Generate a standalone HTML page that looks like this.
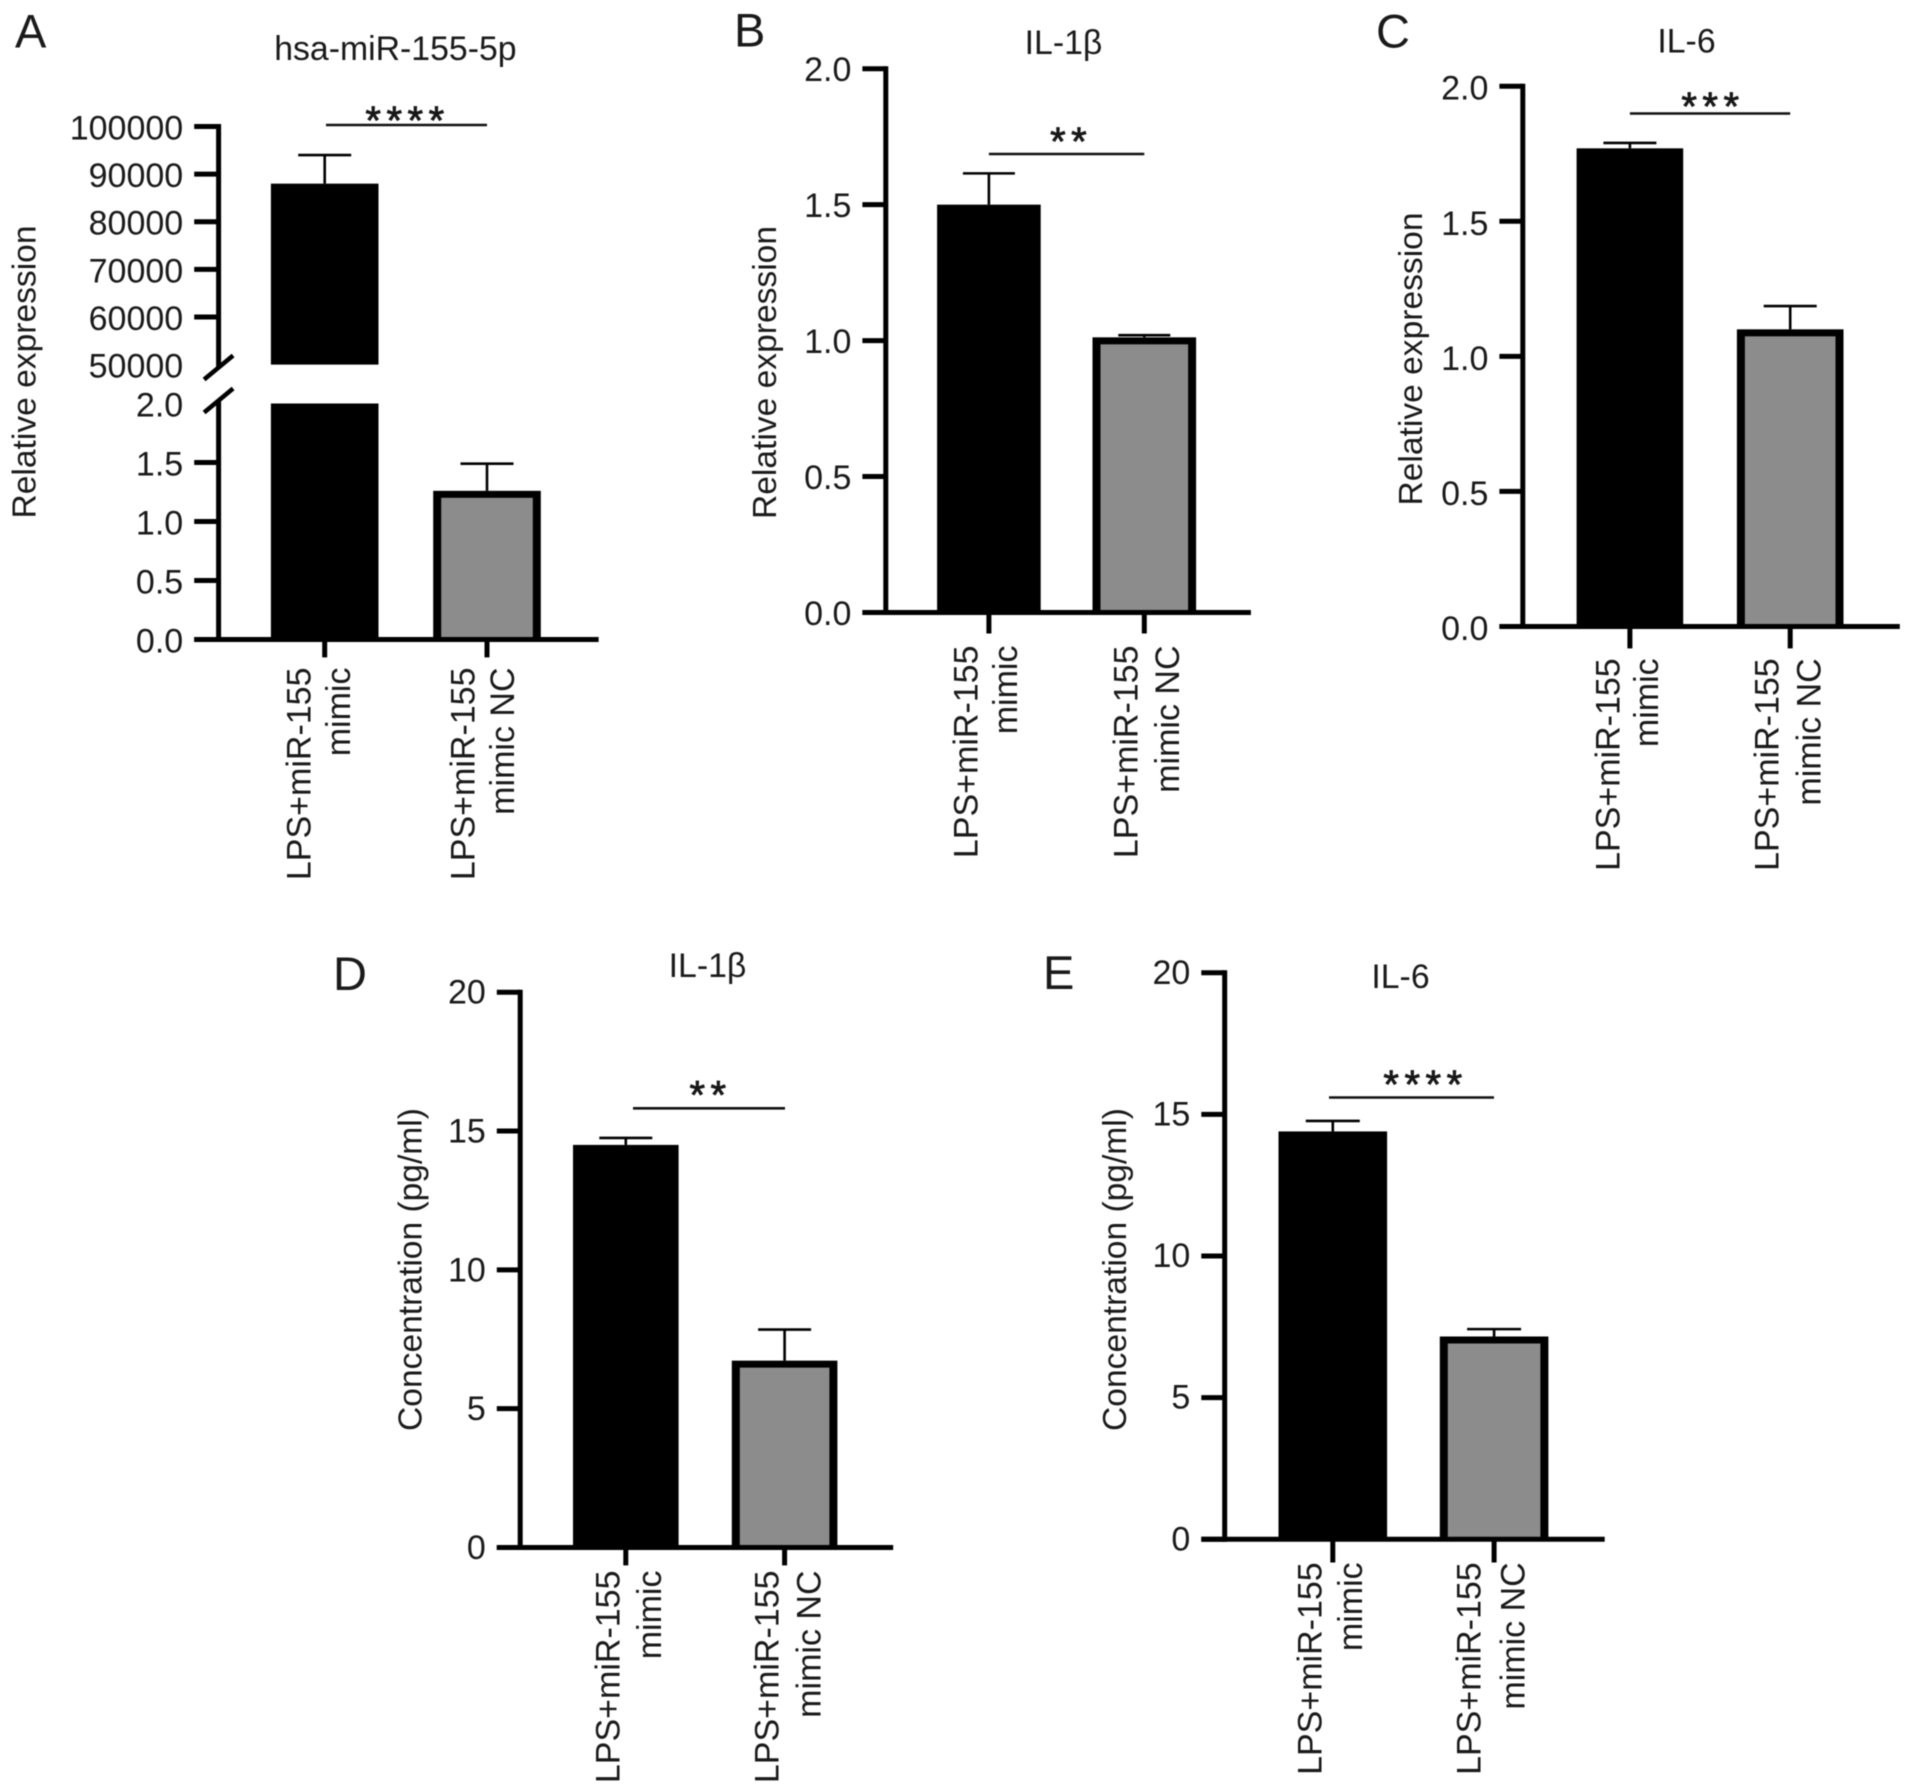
<!DOCTYPE html>
<html lang="en">
<head>
<meta charset="utf-8">
<title>miR-155 mimic expression and concentration bar charts</title>
<style>
html,body{margin:0;padding:0;background:#fff;}
body{width:1913px;height:1792px;overflow:hidden;}
svg{display:block;filter:blur(0.55px);}
text{font-family:"Liberation Sans",Arial,sans-serif;fill:#1a1a1a;}
</style>
</head>
<body>
<svg id="figure" xmlns="http://www.w3.org/2000/svg" width="1913" height="1792" viewBox="0 0 1913 1792"></svg>
<script>
// ---------- Data ----------
const categoryLines = [['LPS+miR-155', 'mimic'], ['LPS+miR-155', 'mimic NC']];
const panelKeys = ['A', 'B', 'C', 'D', 'E'];
const panelTitles = ['hsa-miR-155-5p', 'IL-1β', 'IL-6', 'IL-1β', 'IL-6'];
const yAxisTitles = ['Relative expression', 'Relative expression', 'Relative expression', 'Concentration (pg/ml)', 'Concentration (pg/ml)'];
const significance = ['****', '**', '***', '**', '****'];

const meansA = [88000, 1.26];
const errorTopsA = [94000, 1.49];
const meansB = [1.5, 1.012];
const errorTopsB = [1.615, 1.02];
const meansC = [1.77, 1.1];
const errorTopsC = [1.79, 1.186];
const meansD = [14.5, 6.73];
const errorTopsD = [14.75, 7.85];
const meansE = [14.4, 7.16];
const errorTopsE = [14.77, 7.42];

const ticksAUpper = [50000, 60000, 70000, 80000, 90000, 100000];
const tickLabelsAUpper = ['50000', '60000', '70000', '80000', '90000', '100000'];
const ticksALower = [0, 0.5, 1, 1.5, 2];
const tickLabelsALower = ['0.0', '0.5', '1.0', '1.5', '2.0'];
const ticksRelative = [0, 0.5, 1, 1.5, 2];
const tickLabelsRelative = ['0.0', '0.5', '1.0', '1.5', '2.0'];
const ticksConcentration = [0, 5, 10, 15, 20];
const tickLabelsConcentration = ['0', '5', '10', '15', '20'];

// ---------- Panel geometry (pixel layout, independent of the data) ----------
const layouts = {
  A: {axisX: 218.6, tickLeft: 194.2, baseRight: 598.6, c1: 324.7, c2: 487, barW: 107.6, capW: 53, tickBottom: 657.4, tickLabelDy: 13,
      sigX1: 326, sigX2: 487, sigY: 125, starX: 404.8, starY: 111.4, titleX: 395.4, titleY: 49, yTitleX: 35.5, yTitleY: 372,
      labelTop: 667.5, labelX: [310.6, 350, 474.6, 514], letterX: 15, letterY: 47.6, starFont: 40, starGap: 5.5},
  B: {axisX: 885.8, tickLeft: 862.4, baseRight: 1250.9, c1: 988.9, c2: 1144.3, barW: 103.6, capW: 52, tickBottom: 633.5, tickLabelDy: 12.5,
      sigX1: 988.9, sigX2: 1144.3, sigY: 154, starX: 1068.4, starY: 132.4, titleX: 1063.5, titleY: 43, yTitleX: 776, yTitleY: 372.5,
      labelTop: 645.5, labelX: [977.6, 1017, 1137.6, 1179], letterX: 734, letterY: 46.6, starFont: 40, starGap: 5.5},
  C: {axisX: 1522.8, tickLeft: 1499.4, baseRight: 1899.8, c1: 1629.9, c2: 1790.2, barW: 106.6, capW: 53, tickBottom: 648.4, tickLabelDy: 13.5,
      sigX1: 1629.9, sigX2: 1790.2, sigY: 113.5, starX: 1710.2, starY: 97.4, titleX: 1686.5, titleY: 41.5, yTitleX: 1422, yTitleY: 359,
      labelTop: 658.3, labelX: [1619.5, 1658, 1778.5, 1820.3], letterX: 1376, letterY: 47.6, starFont: 40, starGap: 5.5},
  D: {axisX: 520.2, tickLeft: 496.8, baseRight: 893.2, c1: 625.8, c2: 784.6, barW: 105.6, capW: 53, tickBottom: 1565.4, tickLabelDy: 11.5,
      sigX1: 633, sigX2: 785, sigY: 1108.3, starX: 707.8, starY: 1086.2, titleX: 707.5, titleY: 966, yTitleX: 421.5, yTitleY: 1269.5,
      labelTop: 1570.5, labelX: [619.6, 661, 778.4, 820.5], letterX: 333, letterY: 990, starFont: 40, starGap: 5.5},
  E: {axisX: 1224.7, tickLeft: 1201.3, baseRight: 1604.7, c1: 1332.8, c2: 1494.1, barW: 108.6, capW: 54, tickBottom: 1562.5, tickLabelDy: 11,
      sigX1: 1329, sigX2: 1494, sigY: 1097.5, starX: 1422.8, starY: 1075.4, titleX: 1400.5, titleY: 977, yTitleX: 1126, yTitleY: 1269.5,
      labelTop: 1562.3, labelX: [1321.6, 1362, 1480.4, 1524.4], letterX: 1043, letterY: 989, starFont: 40, starGap: 5.5}
};

const segmentsByPanel = {
  A: [
    {d0: 0, d1: 2, p0: 639.5, p1: 403.5, ticks: ticksALower, labels: tickLabelsALower, unmarked: 2, axisTop: 400.5},
    {d0: 50000, d1: 100000, p0: 364.6, p1: 126.5, ticks: ticksAUpper, labels: tickLabelsAUpper, unmarked: 50000, axisBottom: 367.5}
  ],
  B: [{d0: 0, d1: 2, p0: 612.5, p1: 68.7, ticks: ticksRelative, labels: tickLabelsRelative}],
  C: [{d0: 0, d1: 2, p0: 626.5, p1: 86.2, ticks: ticksRelative, labels: tickLabelsRelative}],
  D: [{d0: 0, d1: 20, p0: 1547.5, p1: 992.2, ticks: ticksConcentration, labels: tickLabelsConcentration}],
  E: [{d0: 0, d1: 20, p0: 1539.3, p1: 972.8, ticks: ticksConcentration, labels: tickLabelsConcentration}]
};
const meansByPanel = {A: meansA, B: meansB, C: meansC, D: meansD, E: meansE};
const errorTopsByPanel = {A: errorTopsA, B: errorTopsB, C: errorTopsC, D: errorTopsD, E: errorTopsE};

// ---------- Drawing ----------
const NS = 'http://www.w3.org/2000/svg';
const root = document.getElementById('figure');
const INK = '#000000';
const GRAY = '#8c8c8c';

function add(parent, tag, attrs, content) {
  const node = document.createElementNS(NS, tag);
  for (const key in attrs) node.setAttribute(key, attrs[key]);
  if (content !== undefined) node.textContent = content;
  parent.appendChild(node);
  return node;
}

function segmentScale(seg, v) {
  return seg.p0 + (v - seg.d0) / (seg.d1 - seg.d0) * (seg.p1 - seg.p0);
}

function yScale(segments, v) {
  let seg = segments[0];
  for (const s of segments) {
    if (v >= s.d0) seg = s;
  }
  return segmentScale(seg, v);
}

function xScale(layout, i) {
  return layout.c1 + i * (layout.c2 - layout.c1);
}

panelKeys.forEach(function (key, panelIndex) {
  const L = layouts[key];
  const segments = segmentsByPanel[key];
  const means = meansByPanel[key];
  const tops = errorTopsByPanel[key];
  const base = segments[0].p0;
  const lower = key.toLowerCase();

  const g = add(root, 'g', {});
  
  

  const letter = add(g, 'text', {x: L.letterX, y: L.letterY, 'font-size': 47}, key);
  
  

  const title = add(g, 'text', {x: L.titleX, y: L.titleY + 11, 'font-size': 33.8, 'text-anchor': 'middle'}, panelTitles[panelIndex]);
  
  

  const yTitle = add(g, 'text', {
    x: 0, y: 0, 'font-size': 33.6, 'text-anchor': 'middle',
    transform: 'translate(' + L.yTitleX + ' ' + L.yTitleY + ') rotate(-90)'
  }, yAxisTitles[panelIndex]);
  
  

  // bars (drawn first so axes sit on top)
  means.forEach(function (value, i) {
    const cx = xScale(L, i);
    const left = cx - L.barW / 2;
    segments.forEach(function (seg, segIndex) {
      if (value <= seg.d0) return;
      const topValue = Math.min(value, seg.d1);
      const yTop = segmentScale(seg, topValue);
      const yBottom = seg.p0;
      const outer = add(g, 'rect', {x: left, y: yTop, width: L.barW, height: yBottom - yTop, fill: INK});
      
      
      if (i === 1) {
        const inner = add(g, 'rect', {x: left + 8, y: yTop + 7, width: L.barW - 16, height: Math.max(0, yBottom - yTop - 7), fill: GRAY});
        
        
      }
    });

    const yMean = yScale(segments, value);
    const yErr = yScale(segments, tops[i]);
    const stem = add(g, 'line', {x1: cx, x2: cx, y1: yErr, y2: yMean, stroke: INK, 'stroke-width': 2.6});
    
    
    const cap = add(g, 'line', {x1: cx - L.capW / 2, x2: cx + L.capW / 2, y1: yErr, y2: yErr, stroke: INK, 'stroke-width': 2.6});
    
    

    const xTick = add(g, 'line', {x1: cx, x2: cx, y1: base, y2: L.tickBottom, stroke: INK, 'stroke-width': 5});
    
    

    categoryLines[i].forEach(function (line, lineIndex) {
      const labelX = L.labelX[i * 2 + lineIndex];
      const label = add(g, 'text', {
        x: 0, y: 0, 'font-size': 34, 'text-anchor': 'end',
        transform: 'translate(' + labelX + ' ' + L.labelTop + ') rotate(-90)'
      }, line);
      
      
    });
  });

  // y axis, ticks and labels
  segments.forEach(function (seg, segIndex) {
    const axisStart = seg.axisBottom !== undefined ? seg.axisBottom : seg.p0 + 2.5;
    const axisEnd = seg.axisTop !== undefined ? seg.axisTop : seg.p1 - 2.5;
    const axis = add(g, 'line', {x1: L.axisX, x2: L.axisX, y1: axisStart, y2: axisEnd, stroke: INK, 'stroke-width': 5});
    
    

    seg.ticks.forEach(function (tickValue, t) {
      const y = segmentScale(seg, tickValue);
      if (tickValue !== seg.unmarked) {
        const tick = add(g, 'line', {x1: L.tickLeft, x2: L.axisX, y1: y, y2: y, stroke: INK, 'stroke-width': 5});
        
        
      }
      const tickLabel = add(g, 'text', {x: L.tickLeft - 11, y: y + L.tickLabelDy, 'font-size': 34, 'text-anchor': 'end'}, seg.labels[t]);
      
      
    });

    if (segments.length > 1) {
      const slashY = seg.axisTop !== undefined ? seg.axisTop : seg.axisBottom;
      const slash = add(g, 'line', {x1: L.axisX - 14.5, x2: L.axisX + 14.5, y1: slashY + 12, y2: slashY - 12, stroke: INK, 'stroke-width': 4.5});
      
      
    }
  });

  // baseline
  const xAxis = add(g, 'line', {x1: L.tickLeft, x2: L.baseRight, y1: base, y2: base, stroke: INK, 'stroke-width': 5});
  
  

  // significance bracket
  const sig = add(g, 'line', {x1: L.sigX1, x2: L.sigX2, y1: L.sigY, y2: L.sigY, stroke: '#111', 'stroke-width': 2.6});
  
  
  const stars = add(g, 'text', {
    x: L.starX + L.starGap / 2, y: L.starY + L.starFont * 0.56,
    'font-size': L.starFont, 'text-anchor': 'middle', 'letter-spacing': L.starGap,
    stroke: '#111', 'stroke-width': 0.8
  }, significance[panelIndex]);
  
  
});
</script>
</body>
</html>
